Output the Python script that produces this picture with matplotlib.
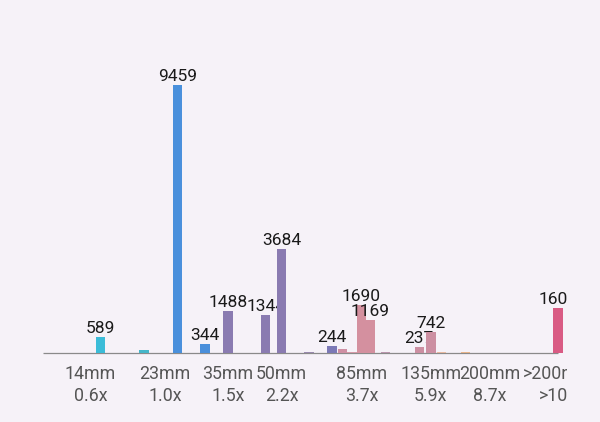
import numpy as np
import matplotlib.pyplot as plt

# photo count per focal length (35mm equivalent)
focal = [15, 20, 25, 30, 35, 45, 50, 60, 70, 75, 80, 85, 90, 100, 125, 135, 145, 170, 315]
counts = [589, 110, 9459, 344, 1488, 1344, 3684, 35, 244, 150, 55, 1690, 1169, 50, 237, 742, 30, 55, 1607]
colors = ['#3bbcd8', '#45b6c9', '#4a90dc', '#4a8fdb', '#8a7bb1', '#8a7bb1', '#8a7bb1',
          '#9a8aae', '#7c79b6', '#cf8fa3', '#d49aa8', '#d4909f', '#d4909f', '#b995ad',
          '#cc8fa2', '#cc8fa2', '#e8b9a0', '#e8b48a', '#d95b84']

tick_mm = [14, 23, 35, 50, 85, 135, 200, 315]
tick_labels = ['14mm\n0.6x', '23mm\n1.0x', '35mm\n1.5x', '50mm\n2.2x',
               '85mm\n3.7x', '135mm\n5.9x', '200mm\n8.7x', '>200mm\n>10x']

bg = '#f6f2f8'
font = ['Roboto', 'DejaVu Sans']

fig = plt.figure(figsize=(6, 4.22), dpi=100, facecolor=bg)
# axes cover the whole height so the bottom labels get clipped at the right edge like the screenshot
ax = fig.add_axes([0, 0, 567 / 600, 1])
ax.set_facecolor(bg)
ax.set_xlim(2.0386, 5.8110)
ax.set_ylim(-2422, 12453)
ax.axis('off')

x = np.log(focal)
ax.hlines(0, np.log(10.2), np.log(315), color='#8a8a8a', lw=0.9, zorder=1)

# later bars are drawn over earlier labels (1344 / 237 are partly hidden)
for i, (xi, c, col) in enumerate(zip(x, counts, colors)):
    ax.bar(xi, c, width=0.063, color=col, zorder=2 + 2 * i)
    if c >= 200:
        ax.annotate(str(c), (xi, c), xytext=(0, 4), textcoords='offset pixels',
                    ha='center', va='baseline', fontsize=12.5, family=font,
                    color='#1a1a1a', zorder=3 + 2 * i, clip_on=True)

for t, lab in zip(tick_mm, tick_labels):
    ax.annotate(lab, (np.log(t), 0), xytext=(0, -32), textcoords='offset pixels',
                ha='center', va='center', fontsize=12.8, family=font,
                color='#555555', linespacing=1.3, clip_on=True)

fig.savefig('out.png', dpi=100, facecolor=bg)
